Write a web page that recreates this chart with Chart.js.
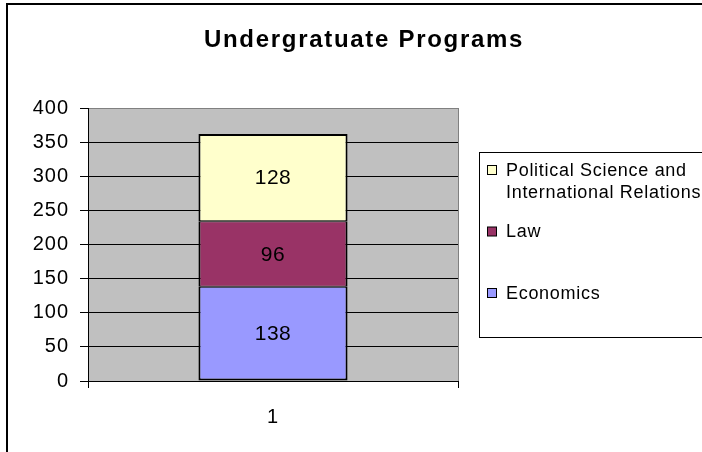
<!DOCTYPE html>
<html>
<head>
<meta charset="utf-8">
<script src="https://cdn.jsdelivr.net/npm/chart.js@4.4.0/dist/chart.umd.min.js"></script>
<style>
  html, body { margin: 0; padding: 0; background: #fff; overflow: hidden; }
  #wrap { width: 702px; height: 452px; }
</style>
</head>
<body>
<div id="wrap"><canvas id="c" width="702" height="452"></canvas></div>
<script>
// chart data
const title = 'Undergratuate Programs';
const categories = ['1'];
const seriesNames = ['Economics', 'Law', 'Political Science and International Relations'];
const economics = [138];
const law = [96];
const polSci = [128];
const yMin = 0, yMax = 400, yStep = 50;

const colors = ['#9999FF', '#993366', '#FFFFCC'];
const FONT = 'Arial, "Liberation Sans", sans-serif';

// gray plot area + gray border like Excel
const plotBg = {
  id: 'plotBg',
  beforeDraw(chart) {
    const { ctx, chartArea: a } = chart;
    ctx.save();
    ctx.fillStyle = '#C0C0C0';
    ctx.fillRect(a.left, a.top, a.right - a.left, a.bottom - a.top);
    ctx.strokeStyle = '#808080';
    ctx.lineWidth = 1;
    ctx.strokeRect(a.left + 0.5, a.top + 0.5, a.right - a.left, a.bottom - a.top);
    ctx.restore();
    ctx.letterSpacing = '1px';
  }
};

// values inside the segments
const segLabels = {
  id: 'segLabels',
  afterDatasetsDraw(chart) {
    const { ctx } = chart;
    ctx.save();
    ctx.letterSpacing = '0.5px';
    ctx.font = '21px ' + FONT;
    ctx.fillStyle = '#000';
    ctx.textAlign = 'center';
    ctx.textBaseline = 'middle';
    chart.data.datasets.forEach((ds, i) => {
      chart.getDatasetMeta(i).data.forEach((el, j) => {
        ctx.fillText(String(ds.data[j]), el.x, (el.y + el.base) / 2 + 1);
      });
    });
    ctx.restore();
  }
};

function wrap(ctx, text, maxW) {
  const words = text.split(' ');
  const lines = [];
  let line = '';
  words.forEach(w => {
    const t = line ? line + ' ' + w : w;
    if (line && ctx.measureText(t).width > maxW) { lines.push(line); line = w; }
    else line = t;
  });
  if (line) lines.push(line);
  return lines;
}

// title, outer frame and the boxed legend on the right
const frame = {
  id: 'frame',
  afterDraw(chart) {
    const { ctx } = chart;
    ctx.save();
    ctx.letterSpacing = '0px';
    ctx.strokeStyle = '#000';
    ctx.lineWidth = 2;
    ctx.strokeRect(7, 4, 780, 480);

    ctx.font = 'bold 24px ' + FONT;
    ctx.letterSpacing = '1.7px';
    ctx.fillStyle = '#000';
    ctx.textAlign = 'center';
    ctx.textBaseline = 'alphabetic';
    ctx.fillText(title, 364, 47);

    ctx.lineWidth = 1;
    ctx.strokeRect(479.5, 152.5, 300, 185);
    ctx.font = '18px ' + FONT;
    ctx.letterSpacing = '0.7px';
    ctx.textAlign = 'left';
    ctx.textBaseline = 'middle';
    const items = chart.data.datasets.slice().reverse();
    items.forEach((ds, i) => {
      const y = 170 + i * 61.5;
      ctx.fillStyle = ds.backgroundColor;
      ctx.fillRect(487.5, y - 4.5, 9, 9);
      ctx.strokeStyle = '#000';
      ctx.strokeRect(487.5, y - 4.5, 9, 9);
      ctx.fillStyle = '#000';
      wrap(ctx, ds.label, 200).forEach((ln, k) => ctx.fillText(ln, 506, y + 1 + k * 22));
    });
    ctx.restore();
  }
};

const seriesValues = [economics, law, polSci];
const last = seriesNames.length - 1;

new Chart(document.getElementById('c'), {
  type: 'bar',
  data: {
    labels: categories,
    datasets: seriesNames.map((name, i) => ({
      label: name,
      data: seriesValues[i],
      backgroundColor: colors[i],
      borderColor: '#000',
      borderWidth: { left: 2, right: 2, top: i === last ? 2 : 1, bottom: i === 0 ? 2 : 1 },
      borderSkipped: false,
      barPercentage: 0.403,
      categoryPercentage: 1
    }))
  },
  options: {
    responsive: false,
    animation: false,
    layout: { padding: { left: 0, top: 108, right: 244, bottom: 0 } },
    plugins: { legend: { display: false }, title: { display: false }, tooltip: { enabled: false } },
    scales: {
      x: {
        stacked: true,
        offset: true,
        grid: { drawOnChartArea: false, tickLength: 7, color: '#000', offset: true },
        border: { color: '#000' },
        ticks: { color: '#000', font: { family: FONT, size: 20 }, padding: 17 },
        afterFit(s) { s.height = 71; }
      },
      y: {
        stacked: true,
        min: yMin,
        max: yMax,
        grid: {
          color: c => (c.tick && c.tick.value === yMax ? '#808080' : '#000'),
          tickColor: '#000',
          tickLength: 8
        },
        border: { color: '#000' },
        ticks: { stepSize: yStep, color: '#000', font: { family: FONT, size: 20 }, padding: 11 },
        afterFit(s) { s.width = 88; }
      }
    }
  },
  plugins: [plotBg, segLabels, frame]
});
</script>
</body>
</html>
